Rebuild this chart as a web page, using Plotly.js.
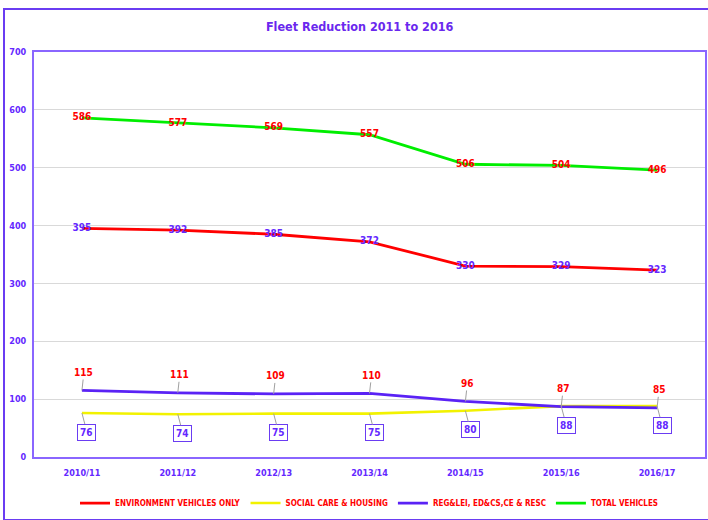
<!DOCTYPE html>
<html>
<head>
<meta charset="utf-8">
<script src="https://cdn.plot.ly/plotly-3.0.1.min.js"></script>
<style>
  html, body { margin: 0; padding: 0; background: #fff; }
  #frame { position: absolute; left: 3px; top: 8px; width: 720px; height: 509px;
           border-left: 2px solid #6a3cf2; border-top: 2px solid #6a3cf2; border-bottom: 2px solid #6a3cf2; }
  #chart { position: absolute; left: 0; top: 0; width: 708px; height: 520px; }
</style>
</head>
<body>
<div id="frame"></div>
<div id="chart"></div>
<script>
const categories = ['2010/11', '2011/12', '2012/13', '2013/14', '2014/15', '2015/16', '2016/17'];
const environment = [395, 392, 385, 372, 330, 329, 323];
const socialCare = [76, 74, 75, 75, 80, 88, 88];
const regLei = [115, 111, 109, 110, 96, 87, 85];
const total = [586, 577, 569, 557, 506, 504, 496];
const yTicks = [0, 100, 200, 300, 400, 500, 600, 700];
const seriesNames = ['ENVIRONMENT VEHICLES ONLY', 'SOCIAL CARE & HOUSING', 'REG&LEI, ED&CS,CE & RESC', 'TOTAL VEHICLES'];

const FONT = 'DejaVu Sans Condensed, Liberation Sans Narrow, Liberation Sans, sans-serif';
const PURPLE = '#6428ff';
const RED = '#ff0000';
const f = (size, color) => ({ family: FONT, size: size, color: color, weight: 'bold', stretch: 'condensed' });

const traces = [
  { x: categories, y: environment, name: seriesNames[0], mode: 'lines+text',
    line: { color: '#ff0000', width: 2.8 }, text: environment.map(String), textposition: 'middle center',
    textfont: f(10, PURPLE), cliponaxis: false },
  { x: categories, y: socialCare, name: seriesNames[1], mode: 'lines',
    line: { color: '#f2f200', width: 2.6 } },
  { x: categories, y: regLei, name: seriesNames[2], mode: 'lines',
    line: { color: '#5a22f5', width: 2.8 } },
  { x: categories, y: total, name: seriesNames[3], mode: 'lines+text',
    line: { color: '#00ee00', width: 2.8 }, text: total.map(String), textposition: 'middle center',
    textfont: f(10, RED), cliponaxis: false }
];

const annotations = [];
regLei.forEach((v, i) => {
  annotations.push({ x: categories[i], y: v, xref: 'x', yref: 'y', text: String(v),
    showarrow: true, arrowhead: 0, arrowwidth: 1, arrowcolor: '#a0a0a0', ax: 2, ay: -18,
    font: f(10, RED) });
});
socialCare.forEach((v, i) => {
  annotations.push({ x: categories[i], y: v, xref: 'x', yref: 'y', text: String(v),
    showarrow: true, arrowhead: 0, arrowwidth: 1, arrowcolor: '#a0a0a0', ax: 5, ay: 19,
    font: f(10, PURPLE),
    bordercolor: '#6a3cf2', borderwidth: 1, borderpad: 2, bgcolor: '#ffffff' });
});

const layout = {
  width: 708, height: 520,
  margin: { l: 34, r: 3, t: 52, b: 62 },
  paper_bgcolor: 'rgba(0,0,0,0)', plot_bgcolor: '#ffffff',
  title: { text: 'Fleet Reduction 2011 to 2016', x: 0.508, xanchor: 'center', y: 0.948, yanchor: 'middle',
           font: f(12.5, '#6a28ee') },
  xaxis: { type: 'category', range: [-0.5, 6.5], showgrid: false, zeroline: false,
           showline: true, linecolor: '#8a66ff', linewidth: 2, mirror: true, ticks: '',
           tickfont: f(9, PURPLE), ticklabelstandoff: 6 },
  yaxis: { range: [0, 700], tickvals: yTicks, ticktext: yTicks.map(String), showgrid: true,
           gridcolor: '#d9d9d9', gridwidth: 1, zeroline: false,
           showline: true, linecolor: '#8a66ff', linewidth: 2, mirror: true, ticks: '',
           tickfont: f(9, PURPLE), ticklabelstandoff: 4 },
  showlegend: true,
  legend: { orientation: 'h', x: 0.5, xanchor: 'center', y: -0.111, yanchor: 'middle',
            font: f(8, RED), itemwidth: 30, bgcolor: 'rgba(0,0,0,0)' },
  annotations: annotations
};

Plotly.newPlot('chart', traces, layout, { displayModeBar: false, staticPlot: true });
</script>
</body>
</html>
